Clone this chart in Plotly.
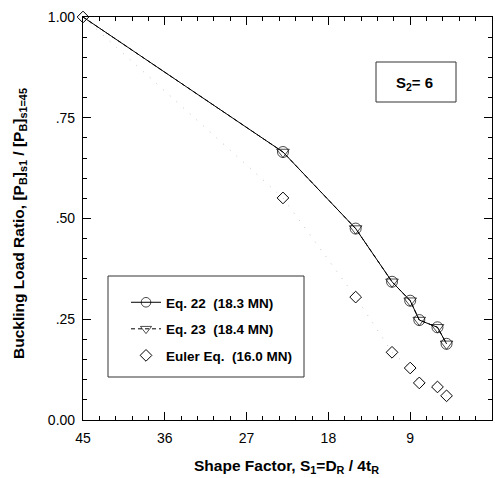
import plotly.graph_objects as go

# Shape factor S1 = D_R / 4t_R for each bearing (S2 = 6)
s1 = [45, 23, 15, 11, 9, 8, 6, 5]

# Buckling load ratio [P_B]_S1 / [P_B]_S1=45
eq22 = [1.00, 0.665, 0.475, 0.343, 0.296, 0.248, 0.230, 0.189]
eq23 = [1.00, 0.665, 0.475, 0.343, 0.296, 0.248, 0.230, 0.189]
euler = [1.00, 0.551, 0.305, 0.168, 0.129, 0.092, 0.082, 0.060]

# Axis ticks
x_ticks = [45, 36, 27, 18, 9, 0]
y_ticks = [0.0, 0.25, 0.50, 0.75, 1.00]
y_tick_labels = ["0.00", ".25", ".50", ".75", "1.00"]

FONT = "Liberation Sans, Arial, Helvetica, sans-serif"
NB = "\u00a0"

# marker size per point: at S1 = 45 only the Euler diamond is drawn
eq_sizes = [0] + [11] * (len(s1) - 1)

fig = go.Figure()

# faint dotted guide through the Euler points
fig.add_trace(go.Scatter(
    x=s1, y=euler, mode="lines", showlegend=False, hoverinfo="skip",
    line=dict(color="#c4c4c4", width=1, dash="1px,8px"),
))

fig.add_trace(go.Scatter(
    x=s1, y=eq23, mode="lines+markers", name=f"Eq. 23{NB}{NB}(18.4 MN)",
    legendgroup="b", legendrank=2, cliponaxis=False,
    line=dict(color="black", width=1, dash="4px,3px"),
    marker=dict(symbol="triangle-down-open", size=eq_sizes, color="black",
                line=dict(width=1, color="black")),
))

fig.add_trace(go.Scatter(
    x=s1, y=eq22, mode="lines+markers", name=f"Eq. 22{NB}{NB}(18.3 MN)",
    legendgroup="a", legendrank=1, cliponaxis=False,
    line=dict(color="black", width=1),
    marker=dict(symbol="circle-open", size=eq_sizes, color="black",
                line=dict(width=1, color="black")),
))

fig.add_trace(go.Scatter(
    x=s1, y=euler, mode="markers", name=f"Euler Eq.{NB}{NB}(16.0 MN)",
    legendgroup="c", legendrank=3, cliponaxis=False,
    marker=dict(symbol="diamond-open", size=9, color="black",
                line=dict(width=1, color="black")),
))

W, H = 495, 478
L, R, T, B = 83, 3, 17, 58
pw, ph = W - L - R, H - T - B


def px_x(px):
    return (px - L) / pw


def px_y(py):
    return (H - B - py) / ph


axis_common = dict(
    showline=True, linecolor="black", linewidth=1.2, mirror="allticks",
    ticks="inside", ticklen=8, tickwidth=1, tickcolor="black",
    showgrid=False, zeroline=False,
    tickfont=dict(family=FONT, size=14, color="black"),
)

fig.update_xaxes(
    range=[45, 0], tickvals=x_ticks, ticklabelstandoff=5,
    minor=dict(ticks="inside", ticklen=4, tickwidth=1, tickcolor="black",
               tick0=0, dtick=1.8),
    **axis_common,
)
fig.update_yaxes(
    range=[0, 1.0], tickvals=y_ticks, ticktext=y_tick_labels, ticklabelstandoff=4,
    minor=dict(ticks="inside", ticklen=4, tickwidth=1, tickcolor="black",
               tick0=0, dtick=0.05),
    **axis_common,
)

# legend frame and the S2 box
shapes = [
    dict(type="rect", xref="paper", yref="paper",
         x0=px_x(108), x1=px_x(304), y0=px_y(377), y1=px_y(276),
         line=dict(color="#333333", width=1)),
    dict(type="rect", xref="paper", yref="paper",
         x0=px_x(376), x1=px_x(456), y0=px_y(102), y1=px_y(62),
         line=dict(color="#333333", width=1)),
]

annotations = [
    dict(text="S<sub>2</sub>= 6", xref="paper", yref="paper",
         x=px_x(414), y=px_y(83), xanchor="center", yanchor="middle",
         showarrow=False,
         font=dict(family=FONT, size=15, color="black", weight="bold")),
    dict(text="Shape Factor, S<sub>1</sub>=D<sub>R</sub> / 4t<sub>R</sub>",
         xref="paper", yref="paper", x=px_x(286), y=px_y(466),
         xanchor="center", yanchor="middle", showarrow=False,
         font=dict(family=FONT, size=15.5, color="black", weight="bold")),
    dict(text="Buckling Load Ratio, [P<sub>B</sub>]<sub>s1</sub> / [P<sub>B</sub>]<sub>s1=45</sub>",
         xref="paper", yref="paper", x=px_x(19), y=px_y(224),
         xanchor="center", yanchor="middle", showarrow=False,
         textangle=-90,
         font=dict(family=FONT, size=15.5, color="black", weight="bold")),
]

fig.update_layout(
    width=W, height=H,
    margin=dict(l=L, r=R, t=T, b=B),
    paper_bgcolor="white", plot_bgcolor="white",
    font=dict(family=FONT, color="black"),
    shapes=shapes, annotations=annotations,
    showlegend=True,
    legend=dict(
        x=px_x(126), y=px_y(287), xanchor="left", yanchor="top",
        bgcolor="rgba(0,0,0,0)", borderwidth=0,
        tracegroupgap=6, traceorder="grouped",
        font=dict(family=FONT, size=13.5, color="black", weight="bold"),
    ),
)

fig.write_html("out.html")
